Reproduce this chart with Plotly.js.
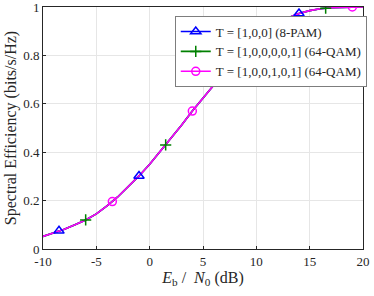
<!DOCTYPE html>
<html><head><meta charset="utf-8">
<script src="https://cdn.plot.ly/plotly-3.0.1.min.js"></script>
<style>html,body{margin:0;padding:0;background:#fff}#c{width:374px;height:296px}</style>
</head><body><div id="c"></div>
<script>
const ebn0 = [-10,-9,-8,-7,-6,-5,-4,-3,-2,-1,0,1,2,3,4,5,6,7,8,9,10,11,12,13,14,15,16,17,18,19,20];
const se = [0.052,0.066,0.082,0.100,0.120,0.145,0.178,0.215,0.257,0.302,0.350,0.403,0.456,0.512,0.570,0.625,0.677,0.726,0.773,0.818,0.860,0.897,0.930,0.956,0.973,0.985,0.993,0.997,0.999,1.0,1.0];
const pamX = [-8.5,-1,6.5,14];
const pamY = [0.075,0.302,0.70,0.973];
const qamAX = [-6,1.5,9,16.5];
const qamAY = [0.120,0.430,0.818,0.995];
const qamBX = [-3.5,4,11.5,19];
const qamBY = [0.196,0.570,0.914,1.0];
const xTicks = [-10,-5,0,5,10,15,20];
const xTickText = ['-10','-5','0','5','10','15','20'];
const yTicks = [0,0.2,0.4,0.6,0.8,1];
const yTickText = ['0','0.2','0.4','0.6','0.8','1'];
const names = ['T = [1,0,0] (8-PAM)','T = [1,0,0,0,0,1] (64-QAM)','T = [1,0,0,1,0,1] (64-QAM)'];
const colors = ['#0000ff','#008000','#ff00ff'];
const symbols = ['triangle-up-open','cross-thin-open','circle-open'];
const sizes = [9,8,8];
const mx = [pamX,qamAX,qamBX], my=[pamY,qamAY,qamBY];
const traces = [];
for (let i=0;i<3;i++){
  traces.push({x:ebn0,y:se,mode:'lines',line:{color:colors[i],width:1.6},showlegend:false,hoverinfo:'skip'});
}
for (let i=0;i<3;i++){
  traces.push({x:mx[i],y:my[i],mode:'markers',marker:{symbol:symbols[i],size:sizes[i],color:colors[i],line:{color:colors[i],width:1.5}},showlegend:false});
}
for (let i=0;i<3;i++){
  traces.push({x:[null],y:[null],name:names[i],mode:'lines+markers',line:{color:colors[i],width:1.6},marker:{symbol:symbols[i],size:sizes[i],color:colors[i],line:{color:colors[i],width:1.5}}});
}
const fam = 'Liberation Serif, Times New Roman, serif';
Plotly.newPlot('c', traces, {
  width:374,height:296,
  margin:{l:43,r:8,t:7,b:47},
  paper_bgcolor:'#fff',plot_bgcolor:'#fff',
  font:{family:fam,size:13,color:'#262626'},
  xaxis:{range:[-10,20],tickvals:xTicks,ticktext:xTickText,ticks:'inside',ticklen:3,tickcolor:'#262626',
    ticklabeloverflow:'allow',
    showline:true,mirror:true,linecolor:'#262626',linewidth:1,showgrid:true,gridcolor:'#e6e6e6',zeroline:false,
    tickfont:{family:fam,size:13,color:'#262626'},
    title:{text:'<i>E</i><sub>b</sub> /  <i>N</i><sub>0</sub> (dB)',font:{family:fam,size:16,color:'#262626'},standoff:2}},
  yaxis:{range:[0,1],tickvals:yTicks,ticktext:yTickText,ticks:'inside',ticklen:3,tickcolor:'#262626',
    ticklabeloverflow:'allow',
    showline:true,mirror:true,linecolor:'#262626',linewidth:1,showgrid:true,gridcolor:'#e6e6e6',zeroline:false,
    tickfont:{family:fam,size:13,color:'#262626'},
    title:{text:'Spectral Efficiency (bits/s/Hz)',font:{family:fam,size:16,color:'#262626'},standoff:2}},
  legend:{x:0.413,y:0.963,xanchor:'left',yanchor:'top',bgcolor:'#fff',bordercolor:'#262626',borderwidth:0.6,
    font:{family:fam,size:13,color:'#262626'},tracegroupgap:0,itemwidth:30}
},{staticPlot:true});
</script></body></html>
